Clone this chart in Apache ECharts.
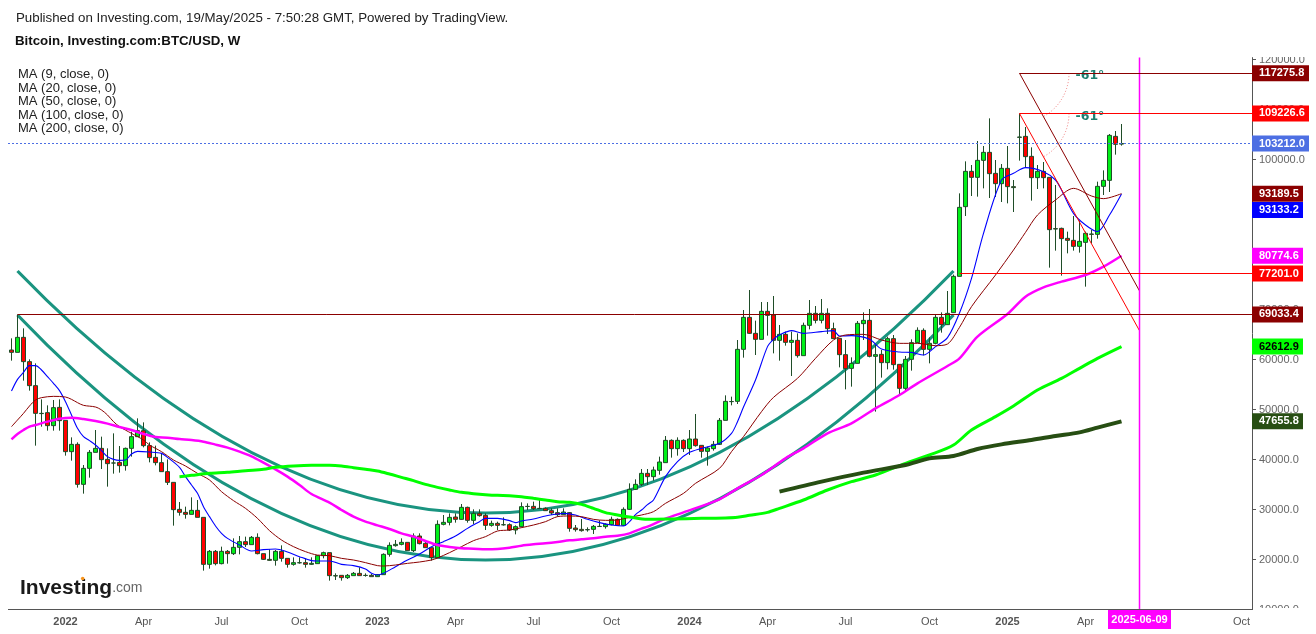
<!DOCTYPE html>
<html>
<head>
<meta charset="utf-8">
<title>Bitcoin weekly</title>
<script src="https://cdn.jsdelivr.net/npm/echarts@6/dist/echarts.min.js"></script>
<style>
  html, body { margin: 0; padding: 0; background: #fff; }
  #chart { width: 1316px; height: 634px; }
</style>
</head>
<body>
<div id="chart"></div>
<script>
// weekly candles
var opens = [
  61920,61450,64450,59590,54790,49250,49390,46790,50450,47850,
  41590,43050,35050,38250,41450,42250,40050,39320,39450,38790,
  42250,44590,45790,42790,40450,39390,37590,35450,30050,29450,
  29050,29850,28450,19050,21650,19190,21650,21190,22450,23590,
  22990,24450,21190,20050,19850,21650,20250,19050,19390,19390,
  19050,19190,20790,21390,16790,16850,16390,16790,17250,16850,
  16850,16590,16990,21050,22790,23050,23450,21790,24720,23250,
  22390,20390,27050,27450,28520,28050,30450,27850,29250,28850,
  26850,27250,26990,26990,25920,26590,30650,30650,30250,30250,
  29790,29390,28990,29390,26320,26050,26000,26050,26650,26590,
  26990,28050,26850,30050,34050,35050,37250,36590,37850,39390,
  43850,42190,43850,42190,44120,42850,41650,42190,43050,47850,
  51620,51650,62050,68450,65250,64050,69650,68920,63850,65050,
  63450,63850,60790,66850,69250,67850,69250,66190,64250,60990,
  58250,59250,67190,67850,60650,61050,59390,64190,59050,54250,
  60050,63390,65850,62050,63250,68450,66990,69390,76650,90590,
  97650,96450,99850,101450,97250,95190,98250,94590,104520,104650,
  100650,96390,97650,96450,86190,86250,84250,83850,82650,83450,
  85120,85050,94650,95850,104650,103100
];
var closes = [
  61450,64450,59590,54790,49250,49200,46790,50390,47790,41590,
  43050,35050,38250,41450,42250,39990,39190,39320,38790,42250,
  44590,45790,42790,40390,39390,37590,35450,29990,29450,29050,
  29850,28450,19050,21650,19190,21650,21190,22450,23590,22990,
  24450,21190,20050,19850,21650,20250,19050,19390,19350,19050,
  19250,20790,21390,16790,16720,16390,16850,17250,16790,16820,
  16590,16990,21050,22850,23050,23450,21790,24720,23190,22390,
  20390,27050,27450,28450,28050,30450,27850,29250,28790,26850,
  27250,26850,26950,25920,26590,30590,30620,30190,30220,29790,
  29320,28990,29520,26250,25990,25790,25960,26650,26620,27050,
  28050,26850,30050,34050,35050,37250,36590,37920,39520,43850,
  42190,43850,42190,44120,42790,41650,42320,43050,47850,51650,
  51590,62050,68450,65250,64050,69650,68850,63850,65050,63450,
  63850,60790,66850,69250,67850,69250,66190,64190,60990,58190,
  59250,67250,67850,60650,60990,59390,64190,58990,54250,60050,
  63390,65850,62050,63250,68450,66990,69250,76650,90450,97650,
  96450,99850,101450,97190,95190,98250,94590,94400,104450,100590,
  96390,97650,96390,85990,86120,84190,83850,82650,83650,85250,
  85050,94650,95850,104850,103050,103212
];
var highs = [
  64250,69033,66250,60050,59250,52050,50850,51920,52050,47850,
  44450,43450,38920,41920,45920,44590,42250,45250,42720,42400,
  45590,48250,47450,43450,42790,41120,40050,35450,31520,30590,
  32450,31920,28450,21920,21920,22590,21920,24250,24720,24590,
  24720,25250,21190,22050,21920,22850,20250,20450,20450,20250,
  20450,20920,21590,21390,17250,16850,17120,17520,18450,17250,
  17120,17120,21250,23450,23920,24250,23450,25250,25250,23920,
  22390,27850,28920,29250,29250,31120,30590,30050,30050,29250,
  27790,27590,28450,27250,26850,31450,31250,31590,31920,30450,
  30250,30250,30250,29520,26920,28120,26450,26920,27850,27250,
  28590,28250,30450,35250,36050,38120,38120,38590,40590,44720,
  44050,44450,44050,45920,49120,42850,42590,43720,48320,52850,
  52590,63920,69920,73920,67790,71520,71520,72720,66920,65590,
  65590,65250,67390,71920,70720,72120,70250,67390,64250,63920,
  60450,67720,69450,70120,62920,61920,64590,64920,59050,60720,
  64050,66450,66250,64450,68920,69450,73720,77000,93250,99650,
  98920,103720,102720,108250,99920,99120,102720,95920,109226,106520,
  102450,98920,99520,96450,94920,86390,85590,88720,87790,85590,
  85920,95590,97850,105120,105720,107120
];
var lows = [
  59790,61450,55790,53790,42790,46590,45790,45790,45790,40790,
  39790,34390,33190,36390,41450,38120,34590,37190,37390,37790,
  40590,44590,42450,39450,38850,37590,34920,26790,28790,28190,
  29050,28450,17790,18190,18850,19050,19190,20920,21050,22520,
  22990,21050,19920,19790,18790,19590,18390,18790,19190,18390,
  18920,19190,20250,15790,15920,15790,16120,16790,16790,16590,
  16590,16590,16990,20590,22590,22850,21790,21520,23050,22390,
  19790,20390,26850,26850,27390,27990,27390,27120,28590,25920,
  26590,25920,26790,25720,25050,26450,29920,29920,30190,29720,
  28920,28590,28920,25590,25590,25590,25590,25120,26590,26190,
  26850,26850,26720,29920,33920,34720,34920,35790,36990,39390,
  40390,40790,41520,40920,42590,40390,38790,41790,42920,47850,
  50850,51120,60390,65120,60920,64050,64790,61250,59790,62790,
  56720,60390,60790,66050,67250,67250,65120,64120,58450,54050,
  54590,59250,63920,60450,49590,56390,58050,57990,52790,53920,
  57790,63390,60850,59250,63050,65390,66920,69390,76650,88720,
  92720,92590,94250,92320,92520,91520,91250,89520,99790,98450,
  91790,94120,94250,78390,81790,76790,81250,81790,81390,74590,
  83250,84190,92920,93520,100990,102790
];

// moving averages as [week index, value]
var ma9 = [[0,53720],[1,56050],[2,57450],[3,58790],[4,58790],[5,57920],[6,56590],[7,55250],[8,53790],[9,51590],[10,48920],[11,46250],[12,44590],[13,43790],[14,42920],[15,41790],[16,40590],[17,40050],[18,39850],[19,39920],[20,41120],[21,41650],[23,41520],[25,41250],[26,40450],[28,38450],[29,36590],[30,34920],[31,33250],[32,30590],[33,28590],[34,26720],[35,25250],[36,24250],[38,22920],[40,21720],[42,21990],[44,22120],[46,21520],[48,20590],[50,19790],[51,19720],[53,19720],[55,19050],[57,18790],[59,18120],[60,17250],[61,16920],[62,17250],[64,18590],[66,19920],[68,21120],[70,22590],[72,23590],[74,24720],[76,26250],[78,27590],[79,28250],[81,28250],[83,27790],[84,27390],[85,27720],[87,28120],[89,28720],[91,29120],[92,29250],[94,28920],[96,28050],[98,27390],[100,26920],[102,26720],[103,27590],[104,29000],[105,29920],[106,31000],[107,31920],[109,36590],[111,39590],[113,41450],[115,42250],[118,43250],[120,45250],[121,47590],[122,50520],[124,55920],[126,62590],[127,64050],[128,64920],[130,65790],[132,65250],[135,65590],[137,65790],[138,64720],[140,64790],[143,64050],[145,62120],[148,61520],[150,61450],[152,60920],[154,62590],[156,64400],[158,69320],[160,76250],[162,85250],[165,95920],[167,97250],[169,98390],[172,97590],[174,95920],[175,93920],[177,89250],[179,86920],[181,85590],[183,88920],[185,93133]];
var ma20 = [[0,46590],[1,47920],[2,49250],[3,50720],[4,51920],[5,52390],[7,52650],[9,52520],[10,52050],[11,51390],[12,50850],[14,50520],[15,49920],[16,48920],[17,47590],[18,46590],[20,45250],[22,43920],[23,42920],[25,41590],[27,39920],[29,38720],[31,37250],[33,35920],[35,33590],[37,31790],[39,30250],[41,28250],[43,25790],[45,23920],[47,22590],[49,21590],[51,20900],[53,20790],[55,20250],[57,19920],[59,19390],[61,18790],[62,18720],[64,18920],[66,19250],[68,19520],[70,19920],[71,20320],[73,21390],[75,22590],[77,23790],[79,24590],[81,25720],[83,25920],[85,26390],[87,26920],[89,27590],[91,28590],[93,28720],[95,28590],[97,28050],[99,27850],[101,27920],[103,28450],[105,28920],[107,29590],[109,31250],[112,33250],[114,35250],[118,38250],[120,41590],[122,44590],[125,49590],[127,52450],[131,56250],[134,60250],[137,63920],[139,64920],[142,65050],[145,63920],[148,63250],[151,63250],[154,62790],[156,63120],[158,66450],[160,70590],[164,76920],[167,81920],[169,85450],[171,88920],[174,91920],[177,94250],[180,92720],[182,92190],[185,93189]];
var ma50 = [[0,44050],[1,45120],[2,45920],[3,46590],[4,46920],[6,47590],[8,48190],[10,48390],[12,48120],[14,47720],[16,47190],[18,46520],[20,45920],[22,45120],[24,44520],[26,44390],[28,44120],[30,43920],[32,43590],[34,42990],[36,42390],[38,41590],[40,40650],[42,39390],[44,38050],[46,36590],[48,34920],[50,33120],[53,31390],[55,29920],[57,28590],[59,27590],[61,26850],[63,26120],[65,25250],[67,24590],[69,23720],[71,22920],[73,22520],[75,22250],[77,22190],[79,22050],[81,22120],[83,22390],[85,22790],[87,23050],[89,23250],[91,23520],[93,23850],[95,24050],[97,24250],[99,24590],[101,24790],[103,25250],[105,26190],[106,26590],[109,28190],[112,29450],[118,32050],[121,34250],[125,36920],[129,40250],[132,42250],[136,45250],[140,47250],[144,50250],[148,52920],[151,55250],[156,58720],[158,60250],[161,64590],[166,69120],[169,72590],[172,74450],[175,75590],[179,76920],[182,78590],[185,80774]];
var ma100 = [[28,36590],[30,36850],[33,37250],[36,37450],[39,37790],[42,38050],[44,38450],[47,38720],[50,38850],[53,38850],[55,38720],[57,38390],[59,38050],[61,37720],[63,37120],[65,36450],[67,35790],[69,35050],[71,34450],[73,33920],[75,33450],[77,33190],[79,32990],[81,32850],[83,32790],[85,32590],[87,32250],[89,31920],[91,31590],[93,31450],[95,31050],[97,30250],[99,29390],[101,28920],[103,28520],[106,28050],[110,28120],[115,28250],[119,28320],[121,28450],[123,28850],[126,29450],[128,30250],[132,31920],[136,33920],[140,35590],[144,36920],[149,39250],[153,40920],[157,42920],[160,45920],[164,48590],[167,50720],[171,53920],[175,56250],[178,58250],[181,60250],[185,62613]];
var ma200 = [[128,33590],[135,35590],[142,37390],[149,38920],[153,40250],[157,40720],[161,42120],[165,43050],[170,43920],[174,44720],[178,45450],[181,46390],[185,47656]];

// hand drawn curves: start week, start value, control week, control value, end week, end value
var curveUpper = [1, 77720, 79, -19080, 157, 77720];
var curveLower = [1, 68920, 79, -29080, 157, 68920];
var rayDark = [[168,117275.8],[188,73738]];
var rayRed = [[168,109226.6],[188,65780]];

// axis
var weekCount = 207;
var categories = [];
for (var w = 0; w < weekCount; w++) categories.push('w' + w);
var tickWeeks = [9, 22, 35, 48, 61, 74, 87, 100, 113, 126, 139, 153, 166, 179, 205];
var tickTexts = ['2022', 'Apr', 'Jul', 'Oct', '2023', 'Apr', 'Jul', 'Oct', '2024', 'Apr', 'Jul', 'Oct', '2025', 'Apr', 'Oct'];
var priceTicks = [10000, 20000, 30000, 40000, 50000, 60000, 70000, 80000, 90000, 100000, 110000, 120000];

// price tags on the right
var tagValues = [117275.8, 109226.6, 103212.0, 93189.5, 93133.2, 80774.6, 77201.0, 69033.4, 62612.9, 47655.8];
var tagFrom = [168, 168, 0, null, null, null, 158, 1, null, null];
var tagFill = ['#8b0000', '#ff0000', '#4d6fe3', '#8b0000', '#0000ff', '#ff00ff', '#ff0000', '#8b0000', '#00ff00', '#274e13'];
var tagInk = ['#fff', '#fff', '#fff', '#fff', '#fff', '#fff', '#fff', '#fff', '#000', '#fff'];
var tagWidth = [57, 57, 57, 51, 51, 51, 51, 51, 51, 51];
var tagShift = [0, 0, 0, 0, 16, 0, 0, 0, 0, 0];

var nowWeek = 188;
var nowLabel = '2025-06-09';
var sans = '"Liberation Sans", Arial, sans-serif';

var myChart = echarts.init(document.getElementById('chart'));

function maSeries(name, data, color, width) {
  return {
    name: name,
    type: 'line',
    data: data,
    symbol: 'none',
    smooth: 0.3,
    silent: true,
    lineStyle: { color: color, width: width, cap: 'butt' }
  };
}

function plainLine(name, data, color, width) {
  return {
    name: name,
    type: 'line',
    data: data,
    symbol: 'none',
    silent: true,
    lineStyle: { color: color, width: width }
  };
}

function renderCurve(params, api) {
  var p0 = api.coord([api.value(0), api.value(1)]);
  var pc = api.coord([api.value(2), api.value(3)]);
  var p1 = api.coord([api.value(4), api.value(5)]);
  return {
    type: 'bezierCurve',
    shape: { x1: p0[0], y1: p0[1], cpx1: pc[0], cpy1: pc[1], x2: p1[0], y2: p1[1] },
    style: { stroke: '#1a9480', fill: null, lineWidth: 3.2 }
  };
}

function renderTag(params, api) {
  var k = params.dataIndex;
  var box = params.coordSys;
  var right = 1252;
  var y = api.coord([0, tagValues[k]])[1];
  var lineY = Math.round(y - 0.5) + 0.5;
  var children = [];
  if (tagFrom[k] !== null) {
    var x0 = k === 2 ? 8 : api.coord([tagFrom[k], tagValues[k]])[0];
    children.push({
      type: 'line',
      shape: { x1: x0, y1: lineY, x2: right, y2: lineY },
      style: { stroke: tagFill[k], lineWidth: 1, lineDash: k === 2 ? [2, 2] : null }
    });
  }
  var boxY = y + tagShift[k];
  children.push({
    type: 'rect',
    shape: { x: box.x + box.width + 1.5, y: boxY - 8, width: tagWidth[k], height: 16 },
    style: { fill: tagFill[k] }
  });
  children.push({
    type: 'text',
    style: {
      x: right + 7, y: boxY, text: tagValues[k].toFixed(1), fill: tagInk[k],
      font: 'bold 11px ' + sans, textAlign: 'left', textVerticalAlign: 'middle'
    }
  });
  return { type: 'group', children: children };
}

function renderNow(params, api) {
  var box = params.coordSys;
  var x = api.coord([nowWeek, 10000])[0];
  var bottom = box.y + box.height;
  return {
    type: 'group',
    children: [
      { type: 'line', shape: { x1: x, y1: box.y, x2: x, y2: bottom }, style: { stroke: '#ff00ff', lineWidth: 1.5 } },
      { type: 'rect', shape: { x: x - 31.5, y: bottom + 0.5, width: 63, height: 19 }, style: { fill: '#ff00ff' } },
      { type: 'text', style: { x: x, y: bottom + 10.5, text: nowLabel, fill: '#fff', font: 'bold 11px ' + sans, textAlign: 'center', textVerticalAlign: 'middle' } }
    ]
  };
}

function renderArc(params, api) {
  var c = api.coord([api.value(0), api.value(1)]);
  return {
    type: 'group',
    children: [
      {
        type: 'arc',
        shape: { cx: c[0], cy: c[1], r: 49.5, startAngle: 0, endAngle: 61 * Math.PI / 180, clockwise: true },
        style: { stroke: '#ef7a7a', fill: null, lineWidth: 1, lineDash: [1, 2] }
      },
      {
        type: 'text',
        style: {
          x: c[0] + 56, y: c[1] + 3, text: '-61\u00b0', fill: '#1d7f6f',
          font: 'bold 12.5px "DejaVu Sans"', textAlign: 'left', textVerticalAlign: 'middle'
        }
      }
    ]
  };
}

var candleData = opens.map(function (o, i) {
  return [o, closes[i], lows[i], highs[i]];
});

var option = {
  animation: false,
  backgroundColor: '#fff',
  textStyle: { fontFamily: sans },
  title: [
    { text: 'Published on Investing.com, 19/May/2025 - 7:50:28 GMT, Powered by TradingView.', left: 11, top: 7, textStyle: { fontFamily: sans, fontSize: 13.3, fontWeight: 'normal', color: '#222' } },
    { text: 'Bitcoin, Investing.com:BTC/USD, W', left: 10, top: 30, textStyle: { fontFamily: sans, fontSize: 13.3, fontWeight: 'bold', color: '#111' } },
    {
      text: '{a|Investing}{b|.com}', left: 15, top: 573,
      textStyle: {
        fontWeight: 'normal',
        rich: {
          a: { fontFamily: sans, fontSize: 21, fontWeight: 'bold', color: '#1a1a1a' },
          b: { fontFamily: sans, fontSize: 14, fontWeight: 'normal', color: '#666' }
        }
      }
    }
  ],
  legend: {
    left: 13, top: 68, orient: 'vertical', icon: 'none',
    itemWidth: 0, itemHeight: 13.75, itemGap: 0, padding: 0,
    selectedMode: false,
    data: ['MA (9, close, 0)', 'MA (20, close, 0)', 'MA (50, close, 0)', 'MA (100, close, 0)', 'MA (200, close, 0)'],
    textStyle: { fontFamily: sans, fontSize: 13, color: '#222' }
  },
  grid: { left: 8.5, width: 1242, top: 57.6, height: 552 },
  xAxis: {
    type: 'category',
    data: categories,
    boundaryGap: true,
    axisLine: { show: false },
    axisTick: {
      alignWithLabel: true, length: 4,
      lineStyle: { color: '#555' },
      interval: function (i) { return tickWeeks.indexOf(i) >= 0; }
    },
    axisLabel: {
      margin: 7, fontSize: 11, color: '#555', fontFamily: sans,
      interval: function (i) { return tickWeeks.indexOf(i) >= 0; },
      formatter: function (v, i) {
        var t = tickTexts[tickWeeks.indexOf(i)];
        return /^\d/.test(t) ? '{y|' + t + '}' : t;
      },
      rich: { y: { fontSize: 11, fontWeight: 'bold', color: '#555', fontFamily: sans } }
    },
    splitLine: { show: false }
  },
  yAxis: {
    type: 'value',
    position: 'right',
    offset: 1.5,
    min: 10000,
    max: 120400,
    axisLine: { show: true, lineStyle: { color: '#555' } },
    axisTick: { show: true, length: 4, lineStyle: { color: '#555' }, customValues: priceTicks },
    axisLabel: {
      margin: 7, fontSize: 11, color: '#666', fontFamily: sans, customValues: priceTicks,
      formatter: function (v) { return v.toFixed(1); }
    },
    splitLine: { show: false }
  },
  graphic: [
    { type: 'line', z: 50, shape: { x1: 8, y1: 609.5, x2: 1252, y2: 609.5 }, style: { stroke: '#555', lineWidth: 1 } },
    { type: 'rect', z: 50, shape: { x: 1253, y: 608, width: 63, height: 26 }, style: { fill: '#fff' } },
    { type: 'rect', z: 50, shape: { x: 1253, y: 40, width: 63, height: 17 }, style: { fill: '#fff' } },
    { type: 'circle', z: 50, shape: { cx: 82.7, cy: 578.5, r: 1.8 }, style: { fill: '#f7941d' } }
  ],
  series: [
    {
      name: 'BTC/USD',
      type: 'candlestick',
      data: candleData,
      barWidth: 4,
      silent: true,
      itemStyle: {
        color: '#00f018',
        color0: '#ff0000',
        borderColor: '#1f4d28',
        borderColor0: '#1f4d28',
        borderWidth: 1
      }
    },
    {
      name: 'curves',
      type: 'custom',
      silent: true,
      renderItem: renderCurve,
      encode: { x: [0, 2, 4], y: [1, 3, 5] },
      data: [curveUpper, curveLower],
      clip: false
    },
    maSeries('MA (9, close, 0)', ma9, '#0000ff', 1.1),
    maSeries('MA (20, close, 0)', ma20, '#8b0000', 1),
    maSeries('MA (50, close, 0)', ma50, '#ff00ff', 2.5),
    maSeries('MA (100, close, 0)', ma100, '#00ff00', 3),
    maSeries('MA (200, close, 0)', ma200, '#274e13', 4),
    plainLine('ray dark', rayDark, '#8b0000', 1),
    plainLine('ray red', rayRed, '#ff0000', 1),
    {
      name: 'angles',
      type: 'custom',
      silent: true,
      renderItem: renderArc,
      encode: { x: 0, y: 1 },
      data: [rayDark[0], rayRed[0]],
      z: 4
    },
    {
      name: 'now',
      type: 'custom',
      silent: true,
      renderItem: renderNow,
      encode: { x: 0, y: 1 },
      data: [[nowWeek, 60000]],
      z: 5
    },
    {
      name: 'tags',
      type: 'custom',
      silent: true,
      renderItem: renderTag,
      encode: { x: 0, y: 1 },
      data: tagValues.map(function (v, k) { return [tagFrom[k] === null ? 0 : tagFrom[k], v]; }),
      z: 6
    }
  ]
};

myChart.setOption(option);
</script>
</body>
</html>
